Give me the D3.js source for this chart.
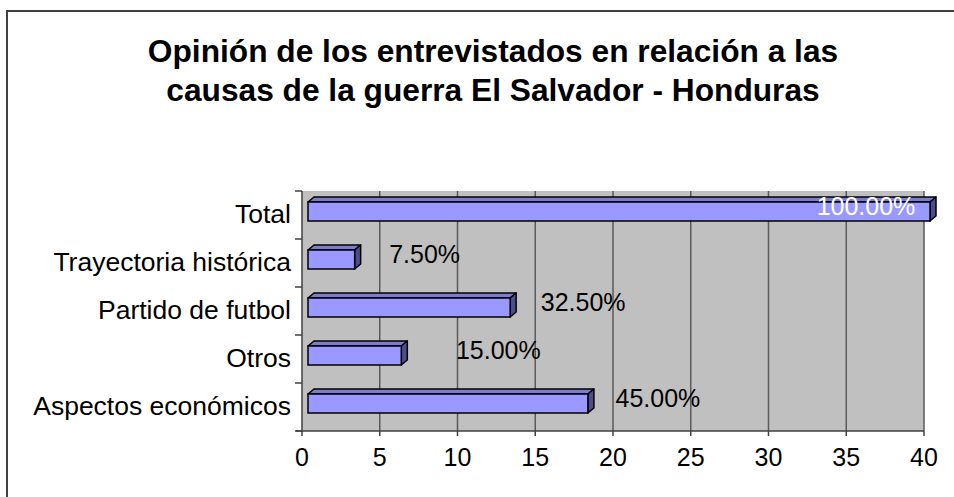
<!DOCTYPE html>
<html>
<head>
  <meta charset="utf-8">
  <script src="https://cdn.jsdelivr.net/npm/d3@7/dist/d3.min.js"></script>
  <style>
    html, body { margin: 0; padding: 0; background: #fff; overflow: hidden; }
    text { font-family: "Liberation Sans", Arial, sans-serif; }
  </style>
</head>
<body>
<script>
  // data
  var categories = ["Total", "Trayectoria histórica", "Partido de futbol", "Otros", "Aspectos económicos"];
  var values = [40, 3, 13, 6, 18];
  var pctLabels = ["100.00%", "7.50%", "32.50%", "15.00%", "45.00%"];
  var xTicks = [0, 5, 10, 15, 20, 25, 30, 35, 40];
  var titleLines = ["Opinión de los entrevistados en relación a las",
                    "causas de la guerra El Salvador - Honduras"];

  // layout
  var W = 954, H = 497;
  var depthX = 6, depthY = 5;
  // horizontal shift of each value label from the bar end (outside labels sit right, Total inside)
  var labelDx = [-58, 76, 79, 103, 76];

  var svg = d3.select("body").append("svg")
      .attr("width", W).attr("height", H);

  // outer frame (runs off right and bottom)
  svg.append("path")
      .attr("d", "M7," + (H + 5) + "V11H" + (W + 5))
      .attr("fill", "none")
      .attr("stroke", "#404040")
      .attr("stroke-width", 2);

  // title
  svg.append("g").selectAll("text")
      .data(titleLines)
      .enter().append("text")
      .attr("x", 493)
      .attr("y", function(d, i) { return 62 + i * 39; })
      .attr("text-anchor", "middle")
      .style("font-size", "31.7px")
      .style("font-weight", "bold")
      .text(function(d) { return d; });

  var x = d3.scaleLinear().domain([0, 40]).range([302, 924]);
  var y = d3.scaleBand().domain(categories).range([191, 431]);

  // back wall
  svg.append("rect")
      .attr("x", x(0)).attr("y", 191)
      .attr("width", x(40) - x(0)).attr("height", 240)
      .attr("fill", "#c0c0c0");

  // gridlines
  svg.append("g").selectAll("line")
      .data(xTicks.slice(1))
      .enter().append("line")
      .attr("x1", function(d) { return x(d); })
      .attr("x2", function(d) { return x(d); })
      .attr("y1", 191).attr("y2", 431)
      .attr("stroke", "#5a5a5a")
      .attr("stroke-width", 1.5);

  // x axis
  var xAxis = svg.append("g").attr("transform", "translate(0,431)");
  xAxis.append("line")
      .attr("x1", 296).attr("x2", x(40))
      .attr("stroke", "#404040").attr("stroke-width", 1.5);
  xAxis.selectAll(".tk").data(xTicks).enter().append("line")
      .attr("x1", function(d) { return x(d); })
      .attr("x2", function(d) { return x(d); })
      .attr("y1", 0).attr("y2", 5)
      .attr("stroke", "#404040").attr("stroke-width", 1.5);
  xAxis.selectAll("text").data(xTicks).enter().append("text")
      .attr("x", function(d) { return x(d); })
      .attr("y", 35)
      .attr("text-anchor", "middle")
      .style("font-size", "25px")
      .text(function(d) { return d; });

  // y axis
  var yAxis = svg.append("g");
  yAxis.append("line")
      .attr("x1", x(0)).attr("x2", x(0))
      .attr("y1", 191).attr("y2", 431)
      .attr("stroke", "#404040").attr("stroke-width", 1.5);
  yAxis.selectAll(".tk").data(categories.concat([null])).enter().append("line")
      .attr("x1", 295).attr("x2", x(0))
      .attr("y1", function(d, i) { return 191 + i * y.step(); })
      .attr("y2", function(d, i) { return 191 + i * y.step(); })
      .attr("stroke", "#404040").attr("stroke-width", 1.5);
  yAxis.selectAll("text").data(categories).enter().append("text")
      .attr("x", 291)
      .attr("y", function(d) { return y(d) + y.bandwidth() / 2 + 8; })
      .attr("text-anchor", "end")
      .style("font-size", "26.5px")
      .text(function(d) { return d; });

  // 3D bars
  var bars = svg.append("g").selectAll("g")
      .data(categories)
      .enter().append("g");

  function geom(d, i) {
    var c = y(d) + y.bandwidth() / 2;
    return { x0: x(0) + depthX, x1: x(values[i]) + depthX, t: c - 13, b: c + 6 };
  }

  bars.append("path") // top face
      .attr("d", function(d, i) {
        var g = geom(d, i);
        return "M" + g.x0 + "," + g.t + "L" + (g.x0 + depthX) + "," + (g.t - depthY) +
               "L" + (g.x1 + depthX) + "," + (g.t - depthY) + "L" + g.x1 + "," + g.t + "Z";
      })
      .attr("fill", "#7c7cd2").attr("stroke", "#000").attr("stroke-width", 1.5)
      .attr("stroke-linejoin", "round");

  bars.append("path") // side face
      .attr("d", function(d, i) {
        var g = geom(d, i);
        return "M" + g.x1 + "," + g.t + "L" + (g.x1 + depthX) + "," + (g.t - depthY) +
               "L" + (g.x1 + depthX) + "," + (g.b - depthY) + "L" + g.x1 + "," + g.b + "Z";
      })
      .attr("fill", "#4d4d8a").attr("stroke", "#000").attr("stroke-width", 1.5)
      .attr("stroke-linejoin", "round");

  bars.append("rect") // front face
      .attr("x", function(d, i) { return geom(d, i).x0; })
      .attr("y", function(d, i) { return geom(d, i).t; })
      .attr("width", function(d, i) { var g = geom(d, i); return g.x1 - g.x0; })
      .attr("height", 19)
      .attr("fill", "#9999ff").attr("stroke", "#000").attr("stroke-width", 1.5);

  // value labels
  svg.append("g").selectAll("text")
      .data(categories)
      .enter().append("text")
      .attr("x", function(d, i) { return x(values[i]) + labelDx[i]; })
      .attr("y", function(d) { return y(d) + y.bandwidth() / 2; })
      .attr("text-anchor", "middle")
      .attr("fill", function(d, i) { return i === 0 ? "#fff" : "#000"; })
      .style("font-size", "25px")
      .text(function(d, i) { return pctLabels[i]; });
</script>
</body>
</html>
